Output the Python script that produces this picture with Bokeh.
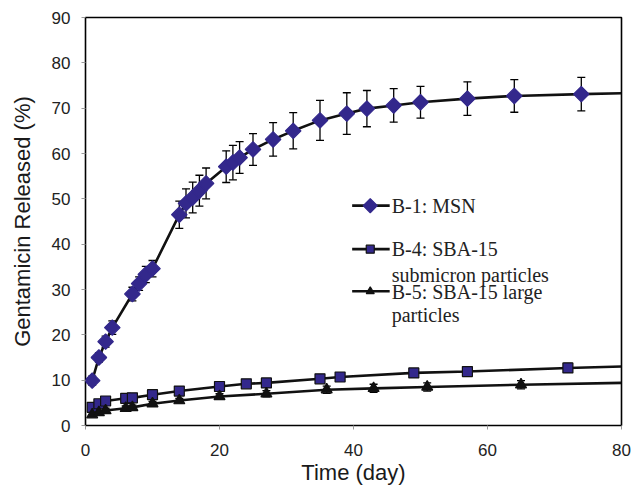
import numpy as np
from bokeh.plotting import figure
from bokeh.models import ColumnDataSource, Whisker, TeeHead, Label, FixedTicker, Range1d
from bokeh.embed import file_html
from bokeh.resources import INLINE

# ---------------- data ----------------
b1_day = [1, 2, 3, 4, 7, 8, 9, 10, 14, 15, 16, 17, 18, 21, 22, 23, 25, 28, 31, 35, 39, 42, 46, 50, 57, 64, 74]
b1_rel = [9.9, 15.0, 18.5, 21.6, 29.0, 31.3, 33.3, 34.6, 46.5, 49.0, 50.3, 51.8, 53.4, 57.1, 58.0, 59.1,
          60.9, 63.1, 65.0, 67.3, 68.8, 69.9, 70.6, 71.3, 72.1, 72.7, 73.1]
b1_err = [1.0, 1.0, 1.2, 1.5, 1.5, 1.5, 1.8, 1.8, 3.0, 3.2, 3.4, 3.4, 3.4, 3.5, 3.8, 3.5,
          3.5, 3.7, 4.0, 4.4, 4.6, 4.0, 3.7, 3.5, 3.7, 3.6, 3.7]

b4_day = [1, 2, 3, 6, 7, 10, 14, 20, 24, 27, 35, 38, 49, 57, 72]
b4_rel = [4.0, 4.8, 5.4, 6.0, 6.1, 6.8, 7.6, 8.6, 9.2, 9.4, 10.3, 10.7, 11.6, 11.9, 12.7]
b4_err = [0.4, 0.4, 0.4, 0.4, 0.4, 0.4, 0.5, 0.5, 0.5, 0.5, 0.6, 0.6, 0.7, 0.8, 1.0]

b5_day = [1, 2, 3, 6, 7, 10, 14, 20, 27, 36, 43, 51, 65]
b5_rel = [2.4, 2.9, 3.3, 3.8, 4.0, 4.8, 5.5, 6.4, 7.0, 7.9, 8.2, 8.5, 9.0]
b5_err = [0.5, 0.5, 0.5, 0.5, 0.5, 0.5, 0.5, 0.6, 0.7, 0.8, 0.9, 0.9, 0.9]

# trend lines continue to the end of the time axis
curve_end_day = 80
b1_curve_end = 73.3
b4_curve_end = 13.0
b5_curve_end = 9.4

series_labels = ["B-1: MSN", "B-4: SBA-15\nsubmicron particles", "B-5: SBA-15 large\nparticles"]
x_ticks = [0, 20, 40, 60, 80]
y_ticks = [0, 10, 20, 30, 40, 50, 60, 70, 80, 90]

# ---------------- styles / layout ----------------
NAVY = "#33288C"
SANS = "Liberation Sans"
SERIF = "Liberation Serif"

p = figure(width=632, height=488, output_backend="svg", toolbar_location=None,
           x_range=Range1d(0, 80), y_range=Range1d(0, 90),
           min_border_left=85, min_border_right=11, min_border_top=17, min_border_bottom=63)
p.background_fill_color = "white"
p.border_fill_color = "white"
p.grid.visible = False
p.outline_line_color = "black"
p.outline_line_width = 1.6
p.outline_line_alpha = 1.0

for ax in (p.xaxis[0], p.yaxis[0]):
    ax.axis_line_color = None
    ax.major_tick_in = 0
    ax.major_tick_out = 4
    ax.major_tick_line_color = "#999999"
    ax.minor_tick_line_color = None
    ax.major_label_text_font = SANS
    ax.major_label_text_font_size = "17px"
    ax.major_label_text_color = "#222222"
    ax.axis_label_text_font = SANS
    ax.axis_label_text_font_size = "22px"
    ax.axis_label_text_font_style = "normal"
    ax.axis_label_text_color = "#1a1a1a"

p.xaxis.ticker = FixedTicker(ticks=x_ticks)
p.yaxis.ticker = FixedTicker(ticks=y_ticks)
p.xaxis.axis_label = "Time (day)"
p.yaxis.axis_label = "Gentamicin Released (%)"
p.xaxis.major_label_standoff = 14
p.yaxis.major_label_standoff = 11
p.xaxis.axis_label_standoff = 1
p.yaxis.axis_label_standoff = 14


def add_series(day, rel, err, end_val, marker, size, fill, outline, angle=0.0):
    src = ColumnDataSource(dict(
        t=day, y=rel,
        upper=[v + e for v, e in zip(rel, err)],
        lower=[v - e for v, e in zip(rel, err)],
    ))
    w = Whisker(source=src, base="t", upper="upper", lower="lower",
                line_color="black", line_width=1.3, level="underlay",
                upper_head=TeeHead(size=8, line_color="black", line_width=1.3),
                lower_head=TeeHead(size=8, line_color="black", line_width=1.3))
    p.add_layout(w)
    p.line(list(day) + [curve_end_day], list(rel) + [end_val], line_color="#111111", line_width=2.6)
    p.scatter("t", "y", source=src, marker=marker, size=size, angle=angle,
              fill_color=fill, line_color=outline, line_width=1.2)


add_series(b1_day, b1_rel, b1_err, b1_curve_end, "square", 11, NAVY, NAVY, angle=np.pi / 4)
add_series(b4_day, b4_rel, b4_err, b4_curve_end, "square", 10, NAVY, "#111111")
add_series(b5_day, b5_rel, b5_err, b5_curve_end, "triangle", 11, "#111111", "#111111")

# ---------------- legend (drawn by hand, in axis units) ----------------
key_x0, key_x1, key_xm, key_text_x = 39.8, 45.4, 42.5, 45.7
key_rows = [48.5, 38.9, 29.6]
key_markers = [("square", 10, NAVY, NAVY, np.pi / 4), ("square", 8, NAVY, "#111111", 0.0),
               ("triangle", 8, "#111111", "#111111", 0.0)]
text_rows = [[48.5], [38.9, 33.3], [29.4, 24.3]]

for row, (mk, sz, fc, lc, ang), lab, trows in zip(key_rows, key_markers, series_labels, text_rows):
    p.segment(x0=[key_x0], y0=[row], x1=[key_x1], y1=[row], line_color="#111111", line_width=2.6)
    p.scatter(x=[key_xm], y=[row], marker=mk, size=sz, angle=ang, fill_color=fc, line_color=lc, line_width=1.2)
    for txt, ty in zip(lab.split("\n"), trows):
        p.add_layout(Label(x=key_text_x, y=ty, text=txt, text_font=SERIF, text_font_size="20px",
                           text_color="#222222", text_baseline="middle", text_align="left"))

open("out.html", "w").write(file_html(p, INLINE))
